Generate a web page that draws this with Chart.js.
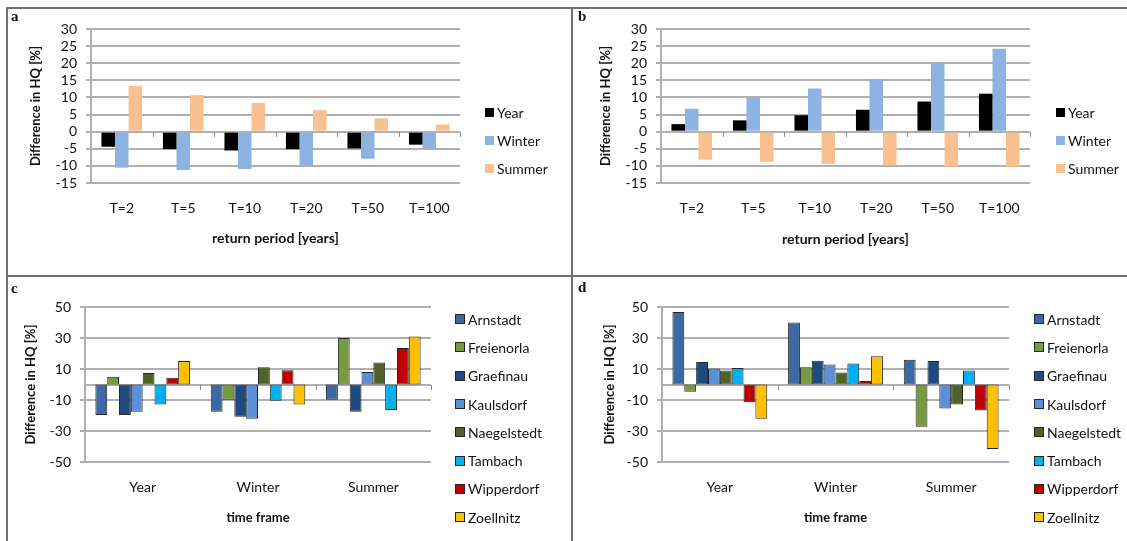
<!DOCTYPE html>
<html>
<head>
<meta charset="utf-8">
<script src="https://cdn.jsdelivr.net/npm/chart.js@4.4.1/dist/chart.umd.min.js"></script>
<style>
  body { margin: 0; background: #fff; width: 1127px; height: 541px; position: relative; overflow: hidden; font-family: Lato, sans-serif; }
  .line { position: absolute; background: #707070; }
  .panel { position: absolute; }
  .letter { position: absolute; font: bold 15px "Liberation Serif", serif; color: #111; }
  .legend { position: absolute; margin: 0; padding: 0; list-style: none; font: 14px Lato, sans-serif; color: #111; }
  .legend li { display: flex; align-items: center; white-space: nowrap; }
  .legend .box { display: inline-block; margin-right: 3px; box-sizing: border-box; }
</style>
</head>
<body>
<div class="line" style="left:6px;top:7px;width:1121px;height:2px"></div>
<div class="line" style="left:6px;top:7px;width:2px;height:534px"></div>
<div class="line" style="left:571px;top:7px;width:2px;height:534px"></div>
<div class="line" style="left:6px;top:275px;width:1121px;height:2px"></div>

<canvas id="chartA" class="panel" width="563" height="266" style="left:8px;top:9px"></canvas>
<canvas id="chartB" class="panel" width="554" height="266" style="left:573px;top:9px"></canvas>
<canvas id="chartC" class="panel" width="563" height="264" style="left:8px;top:277px"></canvas>
<canvas id="chartD" class="panel" width="554" height="264" style="left:573px;top:277px"></canvas>

<div class="letter" style="left:11px;top:8px">a</div>
<div class="letter" style="left:578px;top:8px">b</div>
<div class="letter" style="left:11px;top:280px">c</div>
<div class="letter" style="left:578px;top:279px">d</div>

<ul id="legendA" class="legend" style="left:485px;top:98px"></ul>
<ul id="legendB" class="legend" style="left:1056px;top:98px"></ul>
<ul id="legendC" class="legend" style="left:455px;top:305px"></ul>
<ul id="legendD" class="legend" style="left:1034px;top:305px"></ul>

<script>
// panels a and b: change in HQ by return period
const returnPeriods = ['T=2', 'T=5', 'T=10', 'T=20', 'T=50', 'T=100'];
const yearA = [-4.4, -5.1, -5.5, -5.1, -4.9, -3.8];
const winterA = [-10.5, -11.2, -10.9, -10.1, -7.9, -4.9];
const summerA = [13.4, 10.7, 8.4, 6.3, 3.9, 2.1];
const yearB = [2.2, 3.3, 4.8, 6.4, 8.8, 11.1];
const winterB = [6.7, 10, 12.6, 15.4, 20, 24.2];
const summerB = [-8.2, -8.8, -9.4, -9.8, -10.2, -10.2];

// panels c and d: change in HQ per gauge, values are [Year, Winter, Summer]
const timeFrames = ['Year', 'Winter', 'Summer'];
const stations = ['Arnstadt', 'Freienorla', 'Graefinau', 'Kaulsdorf', 'Naegelstedt', 'Tambach', 'Wipperdorf', 'Zoellnitz'];
const arnstadtC = [-19.7, -17.5, -9.8];
const freienorlaC = [5, -9.8, 30];
const graefinauC = [-19.7, -20.8, -17.5];
const kaulsdorfC = [-17.5, -22.1, 8.1];
const naegelstedtC = [7.5, 11.2, 14.2];
const tambachC = [-12.9, -10.5, -16.4];
const wipperdorfC = [4.4, 9.2, 23.6];
const zoellnitzC = [15.1, -12.9, 31];
const arnstadtD = [46.8, 40, 16];
const freienorlaD = [-4.6, 11.2, -27.3];
const graefinauD = [14.5, 15.3, 15.1];
const kaulsdorfD = [10.4, 12.9, -15.5];
const naegelstedtD = [9, 7.7, -12.9];
const tambachD = [10.7, 13.6, 9];
const wipperdorfD = [-11.4, 2.2, -16.8];
const zoellnitzD = [-22.1, 18.2, -41.6];

// tick labels
const ticksAB = [-15, -10, -5, 0, 5, 10, 15, 20, 25, 30];
const ticksCD = [-50, -30, -10, 10, 30, 50];

const seasonColors = ['#000000', '#8db3e2', '#fac090'];
const stationColors = ['#3c69a2', '#789a3e', '#1f4a7f', '#5a90d8', '#4f6228', '#00b0f0', '#c00000', '#ffc000'];
const GRID = '#b0b0b0';
const FONT = 'Lato';
const TEXT = '#111';

// zero line with small category tick marks (Excel style axis crossing at 0)
const zeroAxis = {
  id: 'zeroAxis',
  beforeDatasetsDraw(chart) {
    const { ctx, scales: { x, y } } = chart;
    const y0 = Math.round(y.getPixelForValue(0));
    const n = chart.data.labels.length;
    ctx.save();
    ctx.strokeStyle = GRID;
    ctx.lineWidth = 2;
    ctx.beginPath();
    ctx.moveTo(x.left, y0);
    ctx.lineTo(x.right, y0);
    ctx.stroke();
    ctx.strokeStyle = '#8c8c8c';
    ctx.lineWidth = 1;
    ctx.beginPath();
    for (let i = 1; i <= n; i++) {
      const xi = Math.round(x.left + i * x.width / n) + 0.5;
      ctx.moveTo(xi, y0);
      ctx.lineTo(xi, y0 + 5);
    }
    ctx.stroke();
    ctx.restore();
  }
};

// legend built as html list next to the chart
const htmlLegend = {
  id: 'htmlLegend',
  afterUpdate(chart, args, opts) {
    const ul = document.getElementById(opts.containerID);
    ul.innerHTML = '';
    chart.data.datasets.forEach((ds) => {
      const li = document.createElement('li');
      li.style.height = opts.rowHeight + 'px';
      const box = document.createElement('span');
      box.className = 'box';
      box.style.width = opts.boxSize + 'px';
      box.style.height = opts.boxSize + 'px';
      box.style.background = ds.backgroundColor;
      if (ds.borderWidth) box.style.border = '1px solid ' + ds.borderColor;
      li.appendChild(box);
      li.appendChild(document.createTextNode(ds.label));
      ul.appendChild(li);
    });
  }
};

function makeChart(id, labels, datasets, cfg) {
  return new Chart(document.getElementById(id), {
    type: 'bar',
    data: { labels: labels, datasets: datasets },
    plugins: [zeroAxis, htmlLegend],
    options: {
      responsive: false,
      animation: false,
      events: [],
      layout: { padding: { left: 0, top: cfg.top, right: cfg.right, bottom: 0 } },
      datasets: { bar: { categoryPercentage: cfg.cat, barPercentage: 1 } },
      plugins: {
        legend: { display: false },
        tooltip: { enabled: false },
        htmlLegend: { containerID: cfg.legend, boxSize: cfg.box, rowHeight: cfg.row }
      },
      scales: {
        x: {
          grid: { display: false, drawTicks: false },
          border: { display: false },
          ticks: { padding: cfg.tickPad, color: TEXT, font: { family: FONT, size: 14 } },
          title: {
            display: true,
            text: cfg.xTitle,
            color: TEXT,
            font: { family: FONT, size: cfg.xTitleSize, weight: 'bold' },
            padding: { top: 0, bottom: cfg.xTitlePad }
          },
          afterFit(s) { s.height = cfg.xHeight; }
        },
        y: {
          min: cfg.ticks[0],
          max: cfg.ticks[cfg.ticks.length - 1],
          afterBuildTicks(s) { s.ticks = cfg.ticks.map((v) => ({ value: v })); },
          grid: { color: GRID, lineWidth: 2, tickLength: 5 },
          border: { color: GRID, width: 2 },
          ticks: { autoSkip: false, padding: 9, color: TEXT, font: { family: FONT, size: 14 } },
          title: {
            display: true,
            text: 'Difference in HQ [%]',
            color: TEXT,
            font: { family: FONT, size: 13, weight: 'bold' },
            padding: { top: cfg.yTitlePad, bottom: 0 }
          },
          afterFit(s) { s.width = cfg.left; }
        }
      }
    }
  });
}

function seasonSets(year, winter, summer) {
  return [
    { label: 'Year', data: year, backgroundColor: seasonColors[0] },
    { label: 'Winter', data: winter, backgroundColor: seasonColors[1] },
    { label: 'Summer', data: summer, backgroundColor: seasonColors[2] }
  ];
}

function stationSets(values) {
  return stations.map((name, i) => ({
    label: name,
    data: values[i],
    backgroundColor: stationColors[i],
    borderColor: '#262626',
    borderWidth: 1,
    borderSkipped: false
  }));
}

makeChart('chartA', returnPeriods, seasonSets(yearA, winterA, summerA), {
  top: 20, right: 111, left: 83, xHeight: 92, tickPad: 17, xTitlePad: 28, xTitleSize: 14, yTitlePad: 20,
  cat: 0.66, ticks: ticksAB, xTitle: 'return period [years]', legend: 'legendA', box: 9, row: 28
});
makeChart('chartB', returnPeriods, seasonSets(yearB, winterB, summerB), {
  top: 20, right: 97, left: 88, xHeight: 92, tickPad: 17, xTitlePad: 27, xTitleSize: 14, yTitlePad: 25,
  cat: 0.66, ticks: ticksAB, xTitle: 'return period [years]', legend: 'legendB', box: 9, row: 28
});
makeChart('chartC', timeFrames,
  stationSets([arnstadtC, freienorlaC, graefinauC, kaulsdorfC, naegelstedtC, tambachC, wipperdorfC, zoellnitzC]), {
  top: 30, right: 140, left: 77, xHeight: 79, tickPad: 17, xTitlePad: 15, xTitleSize: 13, yTitlePad: 15,
  cat: 0.82, ticks: ticksCD, xTitle: 'time frame', legend: 'legendC', box: 10, row: 28.3
});
makeChart('chartD', timeFrames,
  stationSets([arnstadtD, freienorlaD, graefinauD, kaulsdorfD, naegelstedtD, tambachD, wipperdorfD, zoellnitzD]), {
  top: 30, right: 118, left: 89, xHeight: 79, tickPad: 17, xTitlePad: 15, xTitleSize: 13, yTitlePad: 29,
  cat: 0.82, ticks: ticksCD, xTitle: 'time frame', legend: 'legendD', box: 10, row: 28.3
});
</script>
</body>
</html>
